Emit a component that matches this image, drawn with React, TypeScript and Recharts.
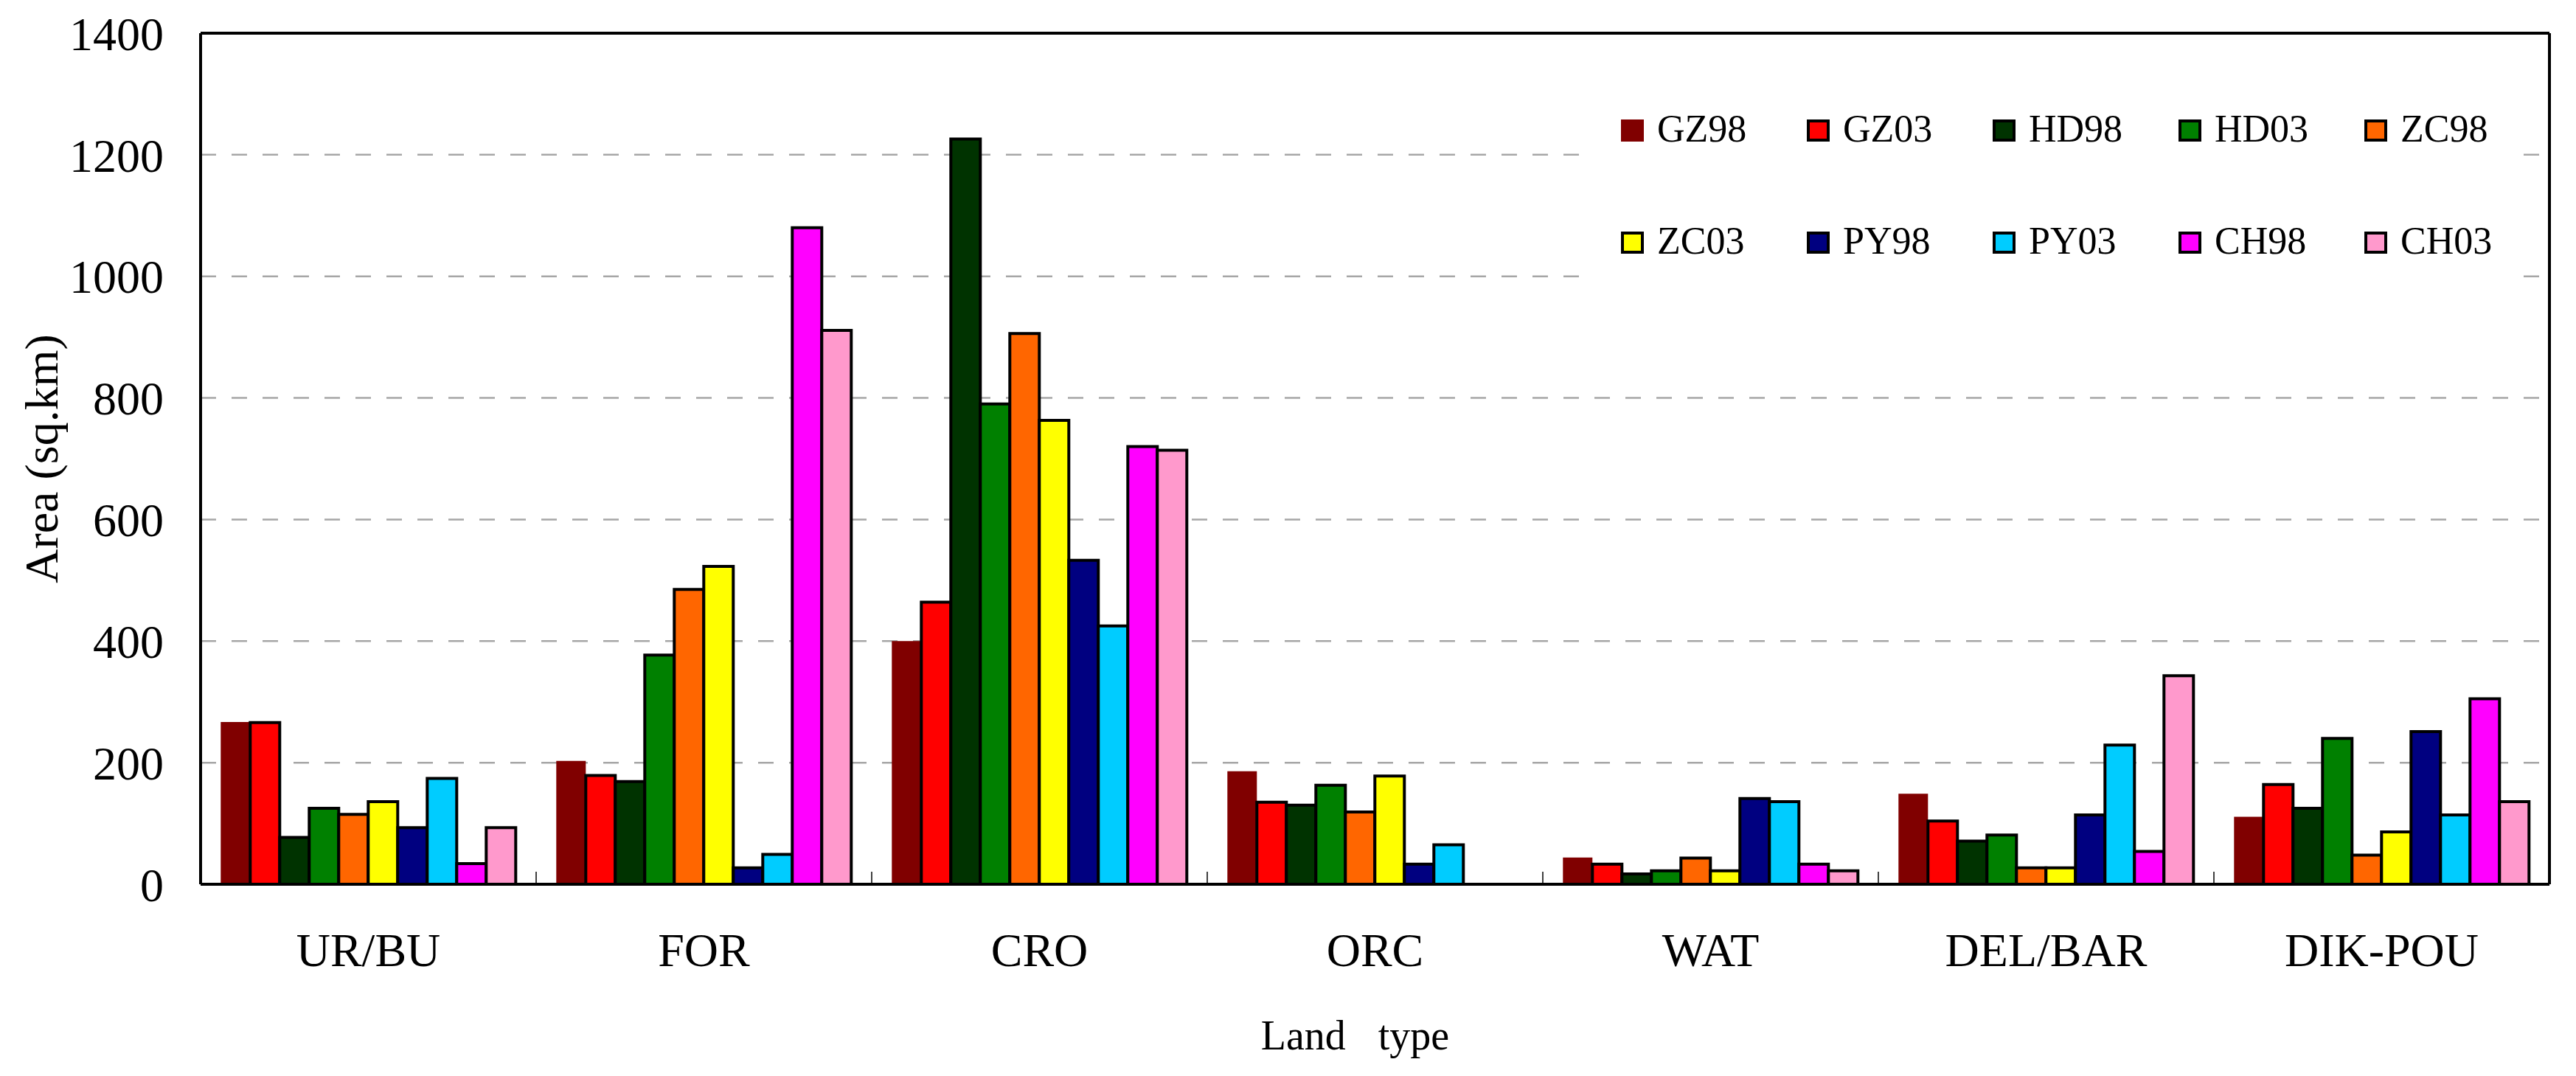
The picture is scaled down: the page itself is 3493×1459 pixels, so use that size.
import React from 'react';
import { BarChart, Bar, XAxis, YAxis, CartesianGrid, Legend, ReferenceLine } from 'recharts';

const FONT = "'Liberation Serif', 'Times New Roman', serif";

const categories = ['UR/BU', 'FOR', 'CRO', 'ORC', 'WAT', 'DEL/BAR', 'DIK-POU'];
const GZ98 = [267, 203, 400, 186, 44, 149, 111];
const GZ03 = [266, 179, 464, 135, 33, 104, 164];
const HD98 = [77, 169, 1226, 130, 17, 71, 125];
const HD03 = [125, 377, 790, 163, 22, 81, 240];
const ZC98 = [115, 485, 906, 119, 43, 27, 48];
const ZC03 = [136, 523, 763, 178, 22, 27, 86];
const PY98 = [93, 27, 533, 33, 141, 114, 251];
const PY03 = [174, 49, 425, 65, 136, 229, 114];
const CH98 = [34, 1080, 720, 0, 33, 54, 305];
const CH03 = [93, 911, 714, 0, 22, 343, 136];
const yTicks = [0, 200, 400, 600, 800, 1000, 1200, 1400];

const seriesNames = ['GZ98', 'GZ03', 'HD98', 'HD03', 'ZC98', 'ZC03', 'PY98', 'PY03', 'CH98', 'CH03'];
const seriesValues = [GZ98, GZ03, HD98, HD03, ZC98, ZC03, PY98, PY03, CH98, CH03];
const seriesColors = ['#800000', '#FF0000', '#003300', '#008000', '#FF6600', '#FFFF00', '#000080', '#00CCFF', '#FF00FF', '#FF99CC'];
const seriesOutlined = [false, true, true, true, true, true, true, true, true, true];

const data = categories.map((cat, i) => {
  const row: Record<string, any> = { cat };
  seriesNames.forEach((n, k) => {
    row[n] = seriesValues[k][i];
  });
  return row;
});

const XTick = (props: any) => {
  const { x, y, payload, index, width, visibleTicksCount } = props;
  const half = payload && payload.offset ? payload.offset : width / visibleTicksCount / 2;
  const axisY = y - 66;
  return (
    <g>
      {index > 0 && (
        <line x1={x - half} x2={x - half} y1={axisY} y2={axisY - 17} stroke="#000" strokeWidth={1.5} />
      )}
      <text x={x} y={y + 45} textAnchor="middle" fontFamily={FONT} fontSize={64} fill="#000">
        {payload.value}
      </text>
    </g>
  );
};

const XTitle = (props: any) => {
  const vb = props.viewBox || { x: 272, y: 1199, width: 3185, height: 260 };
  return (
    <text
      x={vb.x + vb.width / 2 - 27}
      y={vb.y + 224}
      textAnchor="middle"
      fontFamily={FONT}
      fontSize={56}
      fill="#000"
      style={{ wordSpacing: 30 }}
    >
      Land type
    </text>
  );
};

const YTitle = (props: any) => {
  const vb = props.viewBox || { x: 0, y: 45, width: 272, height: 1154 };
  const cx = vb.x + 56;
  const cy = vb.y + vb.height / 2;
  return (
    <text
      x={cx}
      y={cy}
      transform={`rotate(-90 ${cx} ${cy})`}
      textAnchor="middle"
      dominantBaseline="central"
      fontFamily={FONT}
      fontSize={64}
      fill="#000"
    >
      Area (sq.km)
    </text>
  );
};

const renderLegend = () => (
  <div style={{ position: 'relative', width: 1258, height: 330, background: '#fff' }}>
    {seriesNames.map((name, i) => {
      const col = i % 5;
      const row = Math.floor(i / 5);
      return (
        <div
          key={name}
          style={{
            position: 'absolute',
            left: 42 + col * 252,
            top: 89 + row * 152,
            display: 'flex',
            alignItems: 'baseline',
            whiteSpace: 'nowrap',
          }}
        >
          <div
            style={{
              width: 31,
              height: 30,
              background: seriesColors[i],
              border: seriesOutlined[i] ? '4px solid #000' : 'none',
              boxSizing: 'border-box',
            }}
          />
          <span style={{ marginLeft: 18, fontSize: 52, lineHeight: 1, fontFamily: FONT, color: '#000' }}>{name}</span>
        </div>
      );
    })}
  </div>
);

export default function App() {
  return (
    <div style={{ position: 'absolute', left: 0, top: 0, background: '#fff' }}>
      <BarChart
        width={3493}
        height={1459}
        data={data}
        margin={{ top: 45, right: 36, bottom: 0, left: 0 }}
        barCategoryGap="6%"
        barGap={0}
      >
        <CartesianGrid vertical={false} stroke="#a6a6a6" strokeWidth={2.5} strokeDasharray="21 21" />
        <XAxis
          dataKey="cat"
          height={260}
          axisLine={{ stroke: '#000', strokeWidth: 4 }}
          tickLine={false}
          tickSize={0}
          tickMargin={66}
          tick={<XTick />}
          interval={0}
          label={<XTitle />}
        />
        <YAxis
          width={272}
          domain={[0, 1400]}
          ticks={yTicks}
          interval={0}
          axisLine={{ stroke: '#000', strokeWidth: 4 }}
          tickLine={false}
          tickSize={0}
          tickMargin={50}
          tick={{ fontFamily: FONT, fontSize: 64, fill: '#000' }}
          label={<YTitle />}
        />
        <Legend
          layout="vertical"
          align="center"
          verticalAlign="middle"
          content={renderLegend}
          wrapperStyle={{ left: 2156, top: 60, width: 1258, height: 330 }}
        />
        {seriesNames.map((name, i) => (
          <Bar
            key={name}
            dataKey={name}
            name={name}
            fill={seriesColors[i]}
            stroke={seriesOutlined[i] ? '#000' : 'none'}
            strokeWidth={4}
            isAnimationActive={false}
          />
        ))}
        <ReferenceLine y={1400} stroke="#000" strokeWidth={4} ifOverflow="visible" />
        <ReferenceLine
          x={categories[categories.length - 1]}
          position="end"
          stroke="#000"
          strokeWidth={4}
          ifOverflow="visible"
        />
      </BarChart>
    </div>
  );
}
